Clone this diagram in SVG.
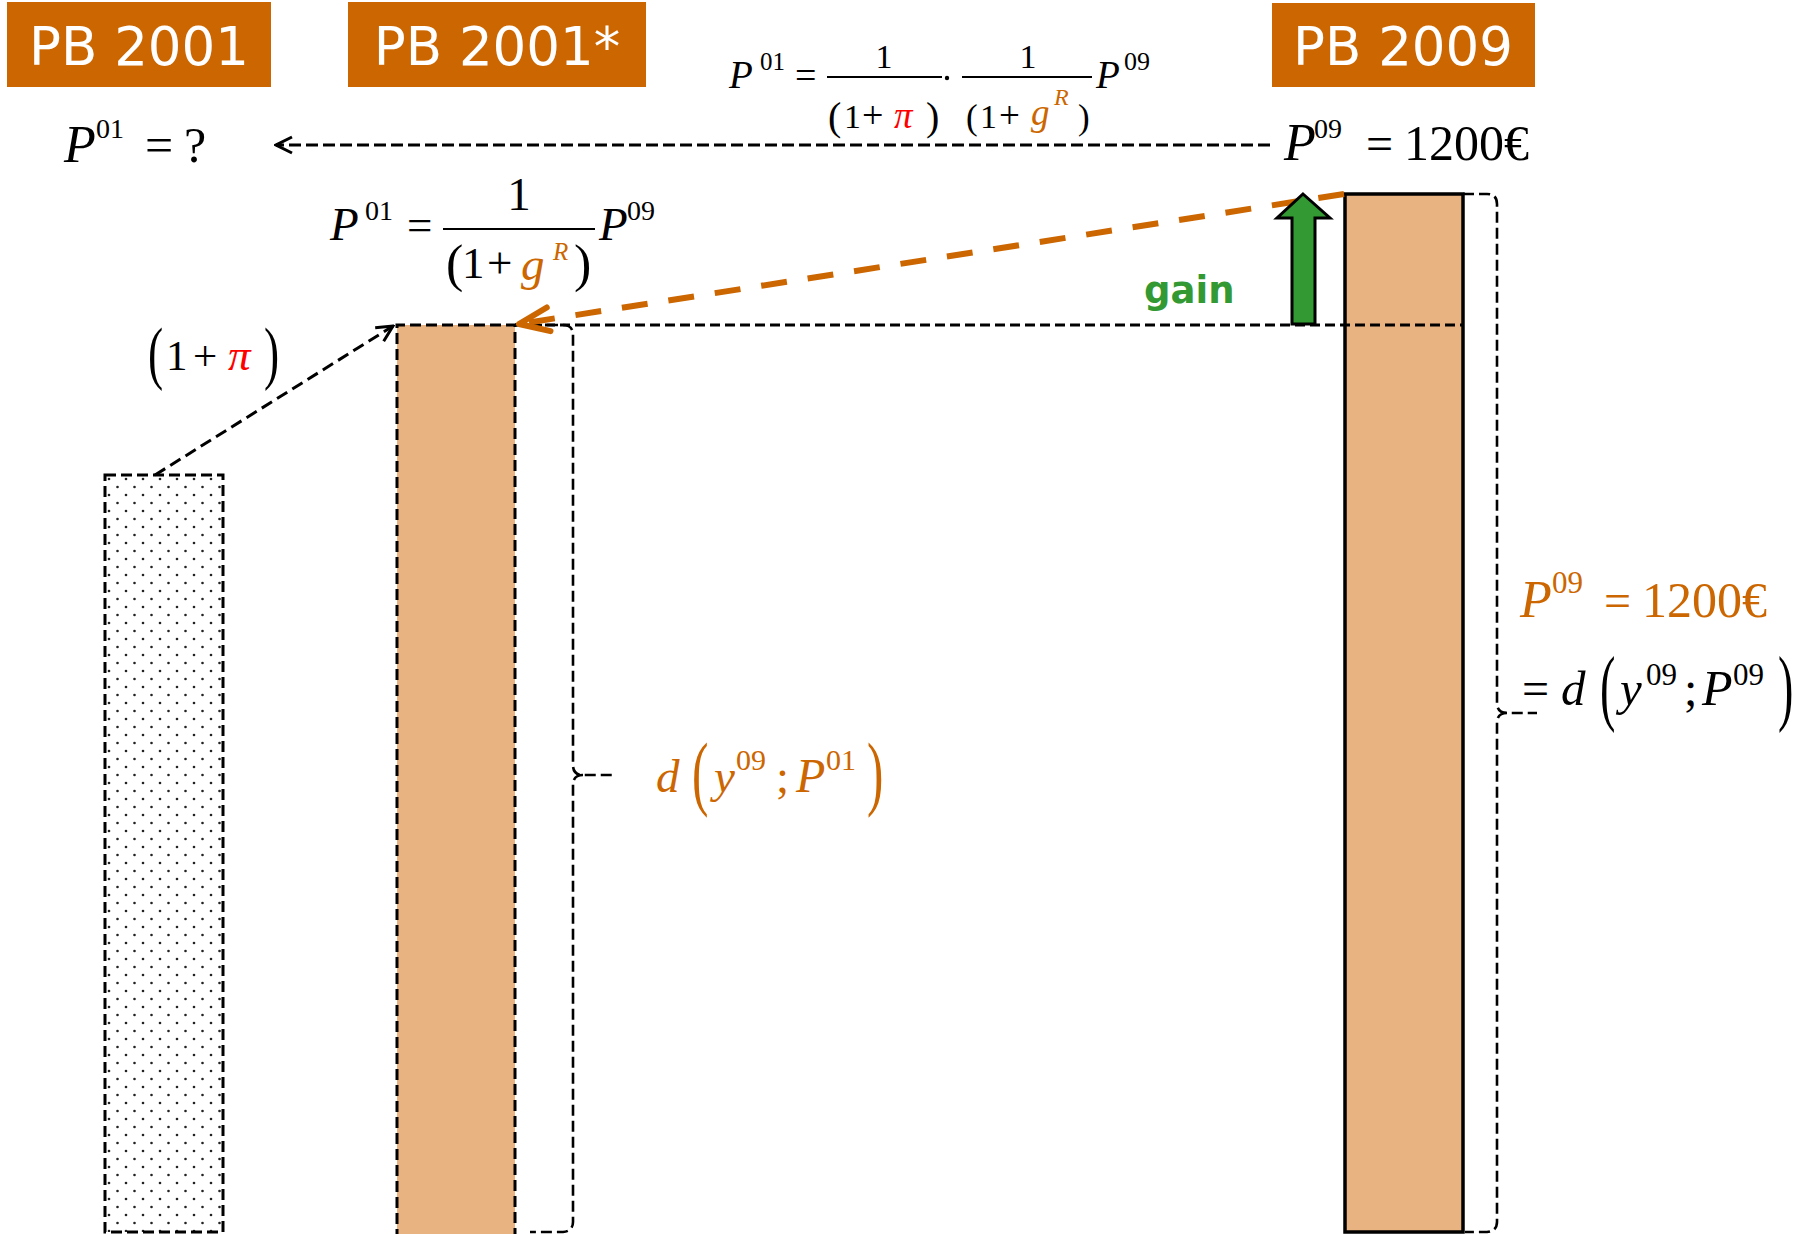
<svg xmlns="http://www.w3.org/2000/svg" width="1810" height="1234" viewBox="0 0 1810 1234">
<style>
.hdr{fill:#CC6600}
.hdrt{font-family:"DejaVu Sans","Verdana",sans-serif;font-size:53px;fill:#ffffff;text-anchor:middle}
.m{font-family:"Liberation Serif","Times New Roman",serif;fill:#000}
.i{font-style:italic}
.o{fill:#CC6600}
.r{fill:#FF0000}
.bar{fill:#E8B381}
.dash{fill:none;stroke:#000;stroke-width:3;stroke-dasharray:11 5}
.thin{fill:none;stroke:#000;stroke-width:2.6;stroke-dasharray:11 5}
.gain{font-family:"DejaVu Sans","Verdana",sans-serif;font-weight:bold;font-size:37px;fill:#339933}
</style>
<defs>
<pattern id="dots" width="17" height="16" patternUnits="userSpaceOnUse" x="105" y="475">
<rect width="17" height="16" fill="#fff"/>
<circle cx="4" cy="4" r="1.3" fill="#222"/>
<circle cx="12.5" cy="12" r="1.3" fill="#222"/>
</pattern>
<marker id="blk" viewBox="0 0 20 20" refX="18" refY="10" markerWidth="20" markerHeight="20" markerUnits="userSpaceOnUse" orient="auto">
<path d="M2,2 L18,10 L2,18" fill="none" stroke="#000" stroke-width="3" stroke-dasharray="none"/>
</marker>
<marker id="org" viewBox="0 0 40 40" refX="36" refY="20" markerWidth="40" markerHeight="40" markerUnits="userSpaceOnUse" orient="auto">
<path d="M6,8 L36,20 L6,32" fill="none" stroke="#CC6600" stroke-width="6" stroke-linecap="round" stroke-linejoin="round" stroke-dasharray="none"/>
</marker>
</defs>
<rect width="1810" height="1234" fill="#fff"/>

<!-- header nodes -->
<g id="node-pb2001">
<rect class="hdr" x="7" y="2" width="264" height="85"/>
<text class="hdrt" x="139" y="65">PB 2001</text>
</g>
<g id="node-pb2001star">
<rect class="hdr" x="348" y="2" width="298" height="85"/>
<text class="hdrt" x="497" y="65">PB 2001*</text>
</g>
<g id="node-pb2009">
<rect class="hdr" x="1272" y="3" width="263" height="84"/>
<text class="hdrt" x="1403" y="65">PB 2009</text>
</g>

<!-- bars -->
<g id="bar-2001">
<rect x="105" y="475" width="118" height="757" fill="url(#dots)"/>
<rect x="105" y="475" width="118" height="757" class="dash"/>
</g>
<g id="bar-2001star">
<rect x="397" y="325" width="118" height="920" class="bar"/>
<path class="dash" d="M397,1240 V325 H515 V1240"/>
</g>
<g id="bar-2009">
<rect x="1345" y="194" width="118" height="1038" class="bar" stroke="#000" stroke-width="3.5"/>
</g>

<!-- braces -->
<g id="brace-2001star">
<path class="thin" d="M515,325 H563 Q573,325 573,335 V765 Q573,775 583,775 H612 M583,775 Q573,775 573,785 V1222 Q573,1231 563,1232 H530"/>
</g>
<g id="brace-2009">
<path class="thin" d="M1463,194 H1487 Q1497,194 1497,204 V703 Q1497,713 1507,713 H1537 M1507,713 Q1497,713 1497,723 V1222 Q1497,1231 1487,1232 H1465"/>
</g>

<!-- connectors -->
<g id="connectors">
<line class="dash" x1="515" y1="325" x2="1463" y2="325" style="stroke-dasharray:10 5"/>
<line class="dash" x1="1270" y1="145" x2="276" y2="145" marker-end="url(#blk)" style="stroke-dasharray:12 5"/>
<line class="dash" x1="155" y1="475" x2="393" y2="326" marker-end="url(#blk)" style="stroke-dasharray:12 6"/>
<line x1="1344" y1="194" x2="519" y2="324" fill="none" stroke="#CC6600" stroke-width="6" stroke-dasharray="26 21" marker-end="url(#org)"/>
<polygon id="gain-arrow" points="1303,194 1330,218 1315,218 1315,324 1292,324 1292,218 1277,218" fill="#339933" stroke="#000" stroke-width="3" stroke-linejoin="miter"/>
</g>

<text class="gain" x="1144" y="303">gain</text>

<!-- P01 = ? -->
<g id="eq-p01">
<text class="m i" x="64" y="162" font-size="52">P</text>
<text class="m" x="96" y="138" font-size="28">01</text>
<text class="m" x="145" y="162" font-size="50">=</text>
<text class="m" x="184" y="162" font-size="50">?</text>
</g>

<!-- top formula -->
<g id="eq-top">
<text class="m i" x="729" y="88" font-size="39">P</text>
<text class="m" x="760" y="70" font-size="25">01</text>
<text class="m" x="795" y="88" font-size="38">=</text>
<line x1="827" y1="77" x2="942" y2="77" stroke="#000" stroke-width="2"/>
<text class="m" x="884" y="68" font-size="34" text-anchor="middle">1</text>
<text class="m" x="828" y="130" font-size="40">(</text>
<text class="m" x="844" y="128" font-size="34">1</text>
<text class="m" x="862" y="128" font-size="38">+</text>
<text class="m i r" x="894" y="128" font-size="37">π</text>
<text class="m" x="926" y="130" font-size="40">)</text>
<circle cx="947" cy="78" r="2.2" fill="#000"/>
<line x1="962" y1="77" x2="1092" y2="77" stroke="#000" stroke-width="2"/>
<text class="m" x="1028" y="68" font-size="34" text-anchor="middle">1</text>
<text class="m" x="966" y="129" font-size="35">(</text>
<text class="m" x="980" y="128" font-size="34">1</text>
<text class="m" x="999" y="128" font-size="37">+</text>
<text class="m i o" x="1031" y="125" font-size="37">g</text>
<text class="m i o" x="1054" y="105" font-size="24">R</text>
<text class="m" x="1078" y="129" font-size="35">)</text>
<text class="m i" x="1096" y="88" font-size="39">P</text>
<text class="m" x="1124" y="70" font-size="26">09</text>
</g>

<!-- P09 = 1200€ (black) -->
<g id="eq-p09">
<text class="m i" x="1284" y="160" font-size="52">P</text>
<text class="m" x="1314" y="138" font-size="28">09</text>
<text class="m" x="1366" y="160" font-size="48">=</text>
<text class="m" x="1404" y="160" font-size="50">1200€</text>
</g>

<!-- middle formula -->
<g id="eq-mid">
<text class="m i" x="330" y="240" font-size="47">P</text>
<text class="m" x="365" y="220" font-size="28">01</text>
<text class="m" x="407" y="240" font-size="45">=</text>
<line x1="443" y1="229" x2="595" y2="229" stroke="#000" stroke-width="2.2"/>
<text class="m" x="519" y="210" font-size="47" text-anchor="middle">1</text>
<text class="m" x="446" y="281" font-size="52">(</text>
<text class="m" x="462" y="278" font-size="45">1</text>
<text class="m" x="487" y="278" font-size="45">+</text>
<text class="m i o" x="521" y="280" font-size="47">g</text>
<text class="m i o" x="553" y="260" font-size="25">R</text>
<text class="m" x="574" y="281" font-size="52">)</text>
<text class="m i" x="599" y="240" font-size="47">P</text>
<text class="m" x="627" y="220" font-size="28">09</text>
</g>

<!-- (1+pi) -->
<g id="eq-infl">
<text class="m" transform="translate(148,376) scale(0.65,1)" font-size="70">(</text>
<text class="m" x="166" y="370" font-size="43">1</text>
<text class="m" x="193" y="370" font-size="43">+</text>
<text class="m i r" x="228" y="370" font-size="45">π</text>
<text class="m" transform="translate(264,376) scale(0.65,1)" font-size="70">)</text>
</g>

<!-- d(y09;P01) orange -->
<g id="eq-d01">
<text class="m i o" x="656" y="792" font-size="47">d</text>
<text class="m o" transform="translate(692,800) scale(0.6,1)" font-size="82">(</text>
<text class="m i o" x="714" y="792" font-size="47">y</text>
<text class="m o" x="736" y="770" font-size="30">09</text>
<text class="m o" x="776" y="792" font-size="47">;</text>
<text class="m i o" x="796" y="792" font-size="48">P</text>
<text class="m o" x="826" y="770" font-size="30">01</text>
<text class="m o" transform="translate(867,800) scale(0.6,1)" font-size="82">)</text>
</g>

<!-- right labels -->
<g id="eq-right">
<text class="m i o" x="1520" y="617" font-size="52">P</text>
<text class="m o" x="1552" y="593" font-size="31">09</text>
<text class="m o" x="1604" y="617" font-size="48">=</text>
<text class="m o" x="1642" y="617" font-size="50">1200€</text>
<text class="m" x="1522" y="705" font-size="48">=</text>
<text class="m i" x="1561" y="705" font-size="49">d</text>
<text class="m" transform="translate(1600,715) scale(0.55,1)" font-size="84">(</text>
<text class="m i" x="1620" y="705" font-size="49">y</text>
<text class="m" x="1646" y="685" font-size="31">09</text>
<text class="m" x="1684" y="705" font-size="48">;</text>
<text class="m i" x="1702" y="705" font-size="50">P</text>
<text class="m" x="1733" y="685" font-size="31">09</text>
<text class="m" transform="translate(1778,715) scale(0.55,1)" font-size="84">)</text>
</g>
</svg>
